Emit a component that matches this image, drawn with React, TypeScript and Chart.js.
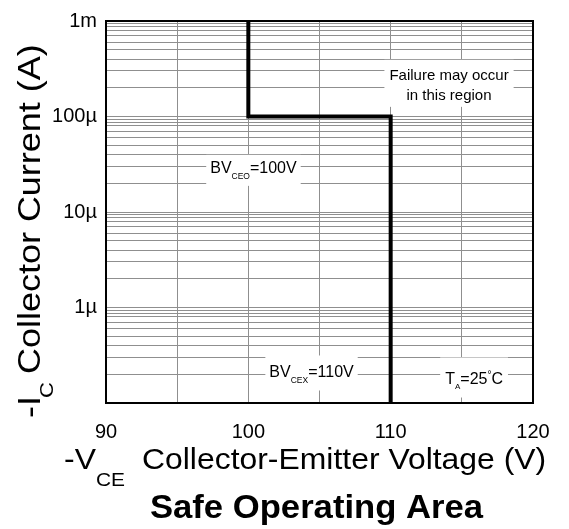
import React, { useEffect, useRef } from 'react';
import { Chart, registerables } from 'chart.js';

Chart.register(...registerables);

// ---- data ----
const xMin = 90;
const xMax = 120;
const xGridValues = [90, 95, 100, 105, 110, 115, 120];
const xLabelValues = [90, 100, 110, 120];

const yMin = 1e-7;
const yMax = 1e-3;
const yDecades = [1e-7, 1e-6, 1e-5, 1e-4];
const yMinorMultipliers = [2, 3, 4, 5, 6, 7, 8, 8.7, 9.35];
const yLabelValues = [1e-3, 1e-4, 1e-5, 1e-6];
const yLabelTexts = ['1m', '100µ', '10µ', '1µ'];

const soaVoltage = [100, 100, 110, 110];
const soaCurrent = [1e-3, 1e-4, 1e-4, 1e-7];

// ---- styling / layout config ----
const FONT = '"Liberation Sans", Arial, Helvetica, sans-serif';
const GRID = '#8f8f8f';

type Seg = { t: string; kind?: 'sub' | 'sup' };
type Ann = {
  x: number; y: number; lines: Seg[][]; size: number; subSize: number; subDy: number;
  supSize?: number; supDy?: number; lineGap: number; padX: number; above: number; below: number;
};

const annotations: Ann[] = [
  {
    x: 114.1, y: 2.42e-4, size: 15, subSize: 8, subDy: 5, lineGap: 20, padX: 5, above: 20, below: 7,
    lines: [[{ t: 'Failure may occur' }], [{ t: 'in this region' }]],
  },
  {
    x: 100.36, y: 2.57e-5, size: 16, subSize: 8.5, subDy: 6, lineGap: 0, padX: 4, above: 18, below: 13,
    lines: [[{ t: 'BV' }, { t: 'CEO', kind: 'sub' }, { t: '=100V' }]],
  },
  {
    x: 104.44, y: 1.85e-7, size: 16, subSize: 8.5, subDy: 6, lineGap: 0, padX: 4, above: 22, below: 13,
    lines: [[{ t: 'BV' }, { t: 'CEX', kind: 'sub' }, { t: '=110V' }]],
  },
  {
    x: 115.86, y: 1.6e-7, size: 16, subSize: 8, subDy: 5, supSize: 10, supDy: -6, lineGap: 0, padX: 5, above: 26, below: 14,
    lines: [[{ t: 'T' }, { t: 'A', kind: 'sub' }, { t: '=25' }, { t: '°', kind: 'sup' }, { t: 'C' }]],
  },
];

const yGridValues: number[] = (() => {
  const v: number[] = [];
  for (const d of yDecades) {
    v.push(d);
    for (const m of yMinorMultipliers) v.push(d * m);
  }
  v.push(yMax);
  return v;
})();

function segFont(a: Ann, s: Seg) {
  if (s.kind === 'sub') return `${a.subSize}px ${FONT}`;
  if (s.kind === 'sup') return `${a.supSize ?? a.subSize}px ${FONT}`;
  return `${a.size}px ${FONT}`;
}

function drawStretched(ctx: CanvasRenderingContext2D, text: string, x: number, y: number, font: string, sx: number, align: 'left' | 'right' | 'center' = 'left') {
  ctx.save();
  ctx.font = font;
  const w = ctx.measureText(text).width * sx;
  const x0 = align === 'right' ? x - w : align === 'center' ? x - w / 2 : x;
  ctx.translate(x0, y);
  ctx.scale(sx, 1);
  ctx.textAlign = 'left';
  ctx.textBaseline = 'alphabetic';
  ctx.fillText(text, 0, 0);
  ctx.restore();
  return w;
}

const decorPlugin = {
  id: 'decor',
  beforeDatasetsDraw(chart: any) {
    const { ctx, scales } = chart;
    const xs = scales.x;
    const ys = scales.y;
    ctx.save();
    for (const a of annotations) {
      const cx = xs.getPixelForValue(a.x);
      const by = ys.getPixelForValue(a.y);
      const widths = a.lines.map((line) =>
        line.reduce((acc, s) => {
          ctx.font = segFont(a, s);
          return acc + ctx.measureText(s.t).width;
        }, 0)
      );
      const maxW = Math.max(...widths);
      const lastBase = by + a.lineGap * (a.lines.length - 1);
      ctx.fillStyle = '#ffffff';
      ctx.fillRect(cx - maxW / 2 - a.padX, by - a.above, maxW + 2 * a.padX, lastBase + a.below - (by - a.above));
      ctx.fillStyle = '#000000';
      ctx.textBaseline = 'alphabetic';
      ctx.textAlign = 'left';
      a.lines.forEach((line, i) => {
        let px = cx - widths[i] / 2;
        const base = by + a.lineGap * i;
        for (const s of line) {
          ctx.font = segFont(a, s);
          const dy = s.kind === 'sub' ? a.subDy : s.kind === 'sup' ? (a.supDy ?? -6) : 0;
          ctx.fillText(s.t, px, base + dy);
          px += ctx.measureText(s.t).width;
        }
      });
    }
    ctx.restore();
  },
  afterDraw(chart: any) {
    const { ctx, chartArea } = chart;
    ctx.save();
    // frame
    ctx.strokeStyle = '#000';
    ctx.lineWidth = 2;
    ctx.strokeRect(chartArea.left, chartArea.top, chartArea.right - chartArea.left, chartArea.bottom - chartArea.top);

    ctx.fillStyle = '#000';
    // x axis title
    const xMain = `29px ${FONT}`;
    const xSub = `19px ${FONT}`;
    drawStretched(ctx, '-V', 96, 469, xMain, 1.1, 'right');
    drawStretched(ctx, 'CE', 96, 486, xSub, 1.1);
    drawStretched(ctx, 'Collector-Emitter Voltage (V)', 142, 469, xMain, 1.1);

    // y axis title (rotated)
    ctx.save();
    ctx.translate(40, 418);
    ctx.rotate(-Math.PI / 2);
    const yMain = `31px ${FONT}`;
    const ySub = `19px ${FONT}`;
    drawStretched(ctx, '-I', 0, 0, yMain, 1.16);
    drawStretched(ctx, 'C', 20, 13, ySub, 1.16);
    drawStretched(ctx, 'Collector Current (A)', 44, 0, yMain, 1.16);
    ctx.restore();

    // chart title
    drawStretched(ctx, 'Safe Operating Area', 316.5, 518, `bold 33px ${FONT}`, 1.05, 'center');
    ctx.restore();
  },
};

function labelForY(v: number): string {
  for (let i = 0; i < yLabelValues.length; i++) {
    if (Math.abs(Math.log10(v) - Math.log10(yLabelValues[i])) < 1e-6) return yLabelTexts[i];
  }
  return '';
}

export default function App() {
  const ref = useRef<HTMLCanvasElement | null>(null);

  useEffect(() => {
    document.body.style.margin = '0';
    const canvas = ref.current;
    if (!canvas) return;
    const chart = new Chart(canvas, {
      type: 'line',
      data: {
        datasets: [
          {
            data: soaVoltage.map((v, i) => ({ x: v, y: soaCurrent[i] })),
            borderColor: '#000',
            borderWidth: 4,
            pointRadius: 0,
            borderJoinStyle: 'miter',
            borderCapStyle: 'butt',
            tension: 0,
            fill: false,
          } as any,
        ],
      },
      options: {
        responsive: false,
        animation: false,
        events: [],
        layout: { padding: { left: 0, right: 36, top: 13, bottom: 0 } },
        plugins: { legend: { display: false }, tooltip: { enabled: false }, title: { display: false } },
        scales: {
          x: {
            type: 'linear',
            min: xMin,
            max: xMax,
            afterBuildTicks: (s: any) => {
              s.ticks = xGridValues.map((v) => ({ value: v }));
            },
            afterFit: (s: any) => {
              s.height = 126;
            },
            ticks: {
              autoSkip: false,
              maxRotation: 0,
              padding: 17,
              color: '#000',
              font: { family: FONT, size: 20 },
              callback: (v: any) => (xLabelValues.includes(Number(v)) ? String(v) : ''),
            },
            grid: { color: GRID, lineWidth: 1, drawTicks: false },
            border: { display: false },
          },
          y: {
            type: 'logarithmic',
            min: yMin,
            max: yMax,
            afterBuildTicks: (s: any) => {
              s.ticks = yGridValues.map((v) => ({ value: v }));
            },
            afterFit: (s: any) => {
              s.width = 106;
            },
            ticks: {
              autoSkip: false,
              padding: 9,
              color: '#000',
              font: { family: FONT, size: 20 },
              callback: (v: any) => labelForY(Number(v)),
            },
            grid: { color: GRID, lineWidth: 1, drawTicks: false },
            border: { display: false },
          },
        },
      } as any,
      plugins: [decorPlugin],
    });
    return () => chart.destroy();
  }, []);

  return (
    <div style={{ width: 569, height: 529 }}>
      <canvas ref={ref} width={569} height={529} style={{ display: 'block' }} />
    </div>
  );
}
